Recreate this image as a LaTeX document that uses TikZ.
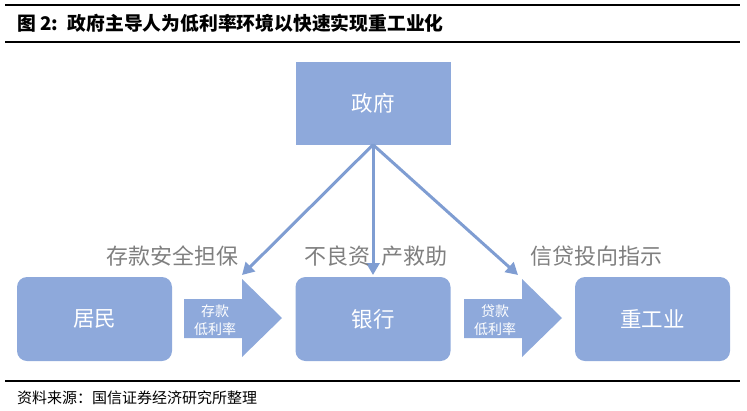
\documentclass[tikz,border=0pt]{standalone}
\usepackage{fontspec}
\setmainfont{Noto Sans CJK SC}
\usetikzlibrary{arrows.meta}
\definecolor{boxblue}{HTML}{8EA9DB}
\definecolor{linkblue}{HTML}{7F9DD2}
\definecolor{labelgray}{HTML}{7F7F7F}

\begin{document}
\begin{tikzpicture}[x=1pt, y=-1pt,
  actor/.style={fill=boxblue, draw=none, rounded corners=10pt, minimum width=155pt,
    minimum height=84pt, inner sep=0pt, text=white, font=\fontsize{21.5}{21.5}\selectfont},
  flow/.style={fill=boxblue, draw=none},
  flowtext/.style={text=white, align=center, inner sep=0pt, font=\fontsize{14}{18}\selectfont},
  link/.style={linkblue, line width=3pt, -{Triangle[width=13pt,length=12pt]}},
  role/.style={text=labelgray, inner sep=0pt, font=\fontsize{22}{22}\selectfont},
  rule/.style={black, line width=1.2pt}]
\useasboundingbox (0,0) rectangle (747,410);
% header and footer rules
\draw[rule] (5,5) -- (740,5);
\draw[rule] (5,42) -- (740,42);
\draw[rule] (5,381) -- (740,381);
\node[anchor=west, inner sep=0pt, font=\fontsize{18.8}{18.8}\selectfont\bfseries] (title) at (17,23)
  {图 2:\enspace 政府主导人为低利率环境以快速实现重工业化};
\node[anchor=west, inner sep=0pt, font=\fontsize{15}{15}\selectfont] (source) at (17,398)
  {资料来源：国信证券经济研究所整理};
% boxes
\node[actor, rounded corners=0pt, minimum height=83pt] (gov) at (373,103) {政府};
\node[actor] (house) at (94.5,319) {居民};
\node[actor] (bank) at (373,319) {银行};
\node[actor] (industry) at (652.5,319) {重工业};
% block arrows
\fill[flow] (184,299) -- (242,299) -- (242,279) -- (282,318) -- (242,357) -- (242,338) -- (184,338) -- cycle;
\fill[flow] (464,299) -- (522,299) -- (522,279) -- (562,318) -- (522,357) -- (522,338) -- (464,338) -- cycle;
\node[flowtext] (deposit) at (215,320) {存款\\低利率};
\node[flowtext] (loan) at (495,320) {贷款\\低利率};
% government links
\coordinate (toHouse) at (242,275);
\coordinate (toBank) at (373,275);
\coordinate (toIndustry) at (518,275);
\draw[link] (gov.south) -- (toHouse);
\draw[link] (gov.south) -- (toBank);
\draw[link] (gov.south) -- (toIndustry);
\node[role] (guarantee) at (172,256) {存款安全担保};
\node[role] (rescue) at (376,256) {不良资\hspace{12pt}产救助};
\node[role] (guidance) at (596,256) {信贷投向指示};
\end{tikzpicture}
\end{document}
